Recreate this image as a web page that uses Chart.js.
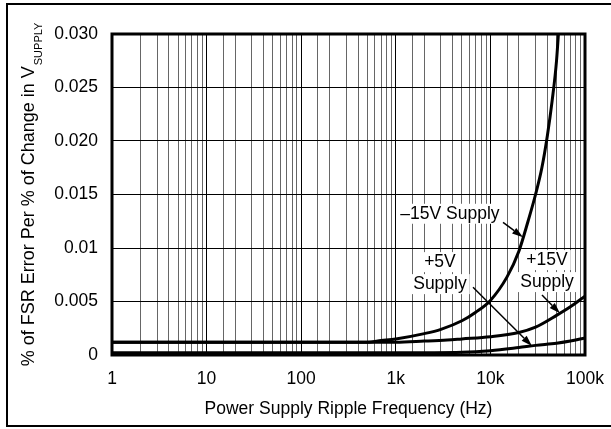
<!DOCTYPE html>
<html>
<head>
<meta charset="utf-8">
<script src="https://cdn.jsdelivr.net/npm/chart.js@4"></script>
<style>
  html, body { margin: 0; padding: 0; background: #fff; }
</style>
</head>
<body>
<canvas id="psrChart" width="611" height="429"></canvas>
<script>
// curve data (frequency in Hz, % FSR error per % supply change)
const freqNeg15 = [1, 100, 500, 700, 1000, 2000, 3000, 5000, 7000, 10000, 15000, 20000, 25000, 30000, 35000, 40000, 45000, 50000, 55000];
const valsNeg15 = [0.0012, 0.0012, 0.0012, 0.00135, 0.0015, 0.002, 0.0024, 0.0032, 0.004, 0.0051, 0.0073, 0.0097, 0.0125, 0.015, 0.0175, 0.0205, 0.0238, 0.0275, 0.033];

const freqPos15 = [1, 1000, 2000, 3500, 5000, 10000, 20000, 30000, 50000, 70000, 100000];
const valsPos15 = [0.0012, 0.0012, 0.0013, 0.0014, 0.0015, 0.0017, 0.0021, 0.0026, 0.0037, 0.0045, 0.0055];

const freqPos5 = [1, 1000, 5000, 10000, 20000, 30000, 50000, 70000, 100000];
const valsPos5 = [0.0002, 0.0002, 0.00025, 0.0004, 0.0007, 0.0009, 0.0011, 0.0013, 0.0016];

const yTickValues = [0, 0.005, 0.01, 0.015, 0.02, 0.025, 0.03];
const yTickLabels = ['0', '0.005', '0.01', '0.015', '0.020', '0.025', '0.030'];
const xTickValues = [1, 10, 100, 1000, 10000, 100000];
const xTickLabels = ['1', '10', '100', '1k', '10k', '100k'];

// callouts, anchored in data coordinates
const noteLines = [['\u201315V Supply'], ['+5V', 'Supply'], ['+15V', 'Supply']];
const noteFreq = [3740, 2930, 39700];
const noteVal = [0.0132, 0.00868, 0.00887];
const arrowFrom = [[13600, 0.0124], [6550, 0.00634], [35100, 0.0056]];
const arrowTo = [[22100, 0.0110], [27500, 0.00084], [54400, 0.0039]];

const FONT = '"Liberation Sans", Arial, Helvetica, sans-serif';
const TXT = 17.5;

const toPoints = (xs, ys) => xs.map((x, i) => ({ x: x, y: ys[i] }));

const lineStyle = {
    borderColor: '#000',
    borderWidth: 3,
    pointRadius: 0,
    fill: false,
    cubicInterpolationMode: 'monotone'
};

const decorPlugin = {
    id: 'decor',
    beforeDatasetsDraw(chart) {
        const ctx = chart.ctx;
        const xs = chart.scales.x, ys = chart.scales.y;
        ctx.save();
        ctx.font = TXT + 'px ' + FONT;
        ctx.textAlign = 'center';
        ctx.textBaseline = 'middle';
        noteLines.forEach((lines, i) => {
            const cx = xs.getPixelForValue(noteFreq[i]);
            const cy = ys.getPixelForValue(noteVal[i]);
            lines.forEach((t, j) => {
                const w = ctx.measureText(t).width;
                const y = cy + j * 22;
                ctx.fillStyle = '#fff';
                ctx.fillRect(cx - w / 2 - 3, y - 10, w + 6, 20);
                ctx.fillStyle = '#000';
                ctx.fillText(t, cx, y);
            });
        });
        ctx.restore();
    },
    afterDatasetsDraw(chart) {
        const ctx = chart.ctx;
        const xs = chart.scales.x, ys = chart.scales.y;
        ctx.save();
        ctx.strokeStyle = '#000';
        ctx.fillStyle = '#000';
        ctx.lineWidth = 1.5;
        arrowFrom.forEach((a, i) => {
            const x1 = xs.getPixelForValue(a[0]), y1 = ys.getPixelForValue(a[1]);
            const x2 = xs.getPixelForValue(arrowTo[i][0]), y2 = ys.getPixelForValue(arrowTo[i][1]);
            const ang = Math.atan2(y2 - y1, x2 - x1);
            const len = 11, half = 3.5;
            const bx = x2 - len * Math.cos(ang), by = y2 - len * Math.sin(ang);
            ctx.beginPath();
            ctx.moveTo(x1, y1);
            ctx.lineTo(bx, by);
            ctx.stroke();
            ctx.beginPath();
            ctx.moveTo(x2, y2);
            ctx.lineTo(bx + half * Math.sin(ang), by - half * Math.cos(ang));
            ctx.lineTo(bx - half * Math.sin(ang), by + half * Math.cos(ang));
            ctx.closePath();
            ctx.fill();
        });

        // heavy plot border
        const a = chart.chartArea;
        ctx.lineWidth = 3;
        ctx.strokeRect(a.left, a.top, a.right - a.left, a.bottom - a.top);
        ctx.restore();
    },
    afterDraw(chart) {
        const ctx = chart.ctx;
        const a = chart.chartArea;
        ctx.save();
        // outer frame
        ctx.lineWidth = 2;
        ctx.strokeStyle = '#000';
        ctx.strokeRect(7, 4, 700, 422);

        // y axis title with subscript
        const main = '% of FSR Error Per % of Change in V';
        const sub = 'SUPPLY';
        ctx.font = '18px ' + FONT;
        const wMain = ctx.measureText(main).width;
        ctx.font = '11px ' + FONT;
        const wSub = ctx.measureText(sub).width;
        const total = wMain + wSub + 1;
        ctx.translate(34, (a.top + a.bottom) / 2);
        ctx.rotate(-Math.PI / 2);
        ctx.fillStyle = '#000';
        ctx.textBaseline = 'alphabetic';
        ctx.textAlign = 'left';
        ctx.font = '18px ' + FONT;
        ctx.fillText(main, -total / 2, 0);
        ctx.font = '11px ' + FONT;
        ctx.fillText(sub, -total / 2 + wMain + 1, 8);
        ctx.restore();
    }
};

const ctx = document.getElementById('psrChart').getContext('2d');
new Chart(ctx, {
    type: 'line',
    data: {
        datasets: [
            Object.assign({ label: '-15V Supply', data: toPoints(freqNeg15, valsNeg15) }, lineStyle),
            Object.assign({ label: '+15V Supply', data: toPoints(freqPos15, valsPos15) }, lineStyle),
            Object.assign({ label: '+5V Supply', data: toPoints(freqPos5, valsPos5) }, lineStyle)
        ]
    },
    options: {
        responsive: false,
        animation: false,
        devicePixelRatio: 1,
        layout: { padding: { top: 34, right: 26, left: 0, bottom: 0 } },
        plugins: {
            legend: { display: false },
            tooltip: { enabled: false }
        },
        scales: {
            x: {
                type: 'logarithmic',
                min: 1,
                max: 100000,
                afterFit: scale => {
                    scale.height = 74;
                    scale.paddingLeft = 0;
                    scale.paddingRight = 0;
                },
                border: { display: false },
                grid: {
                    drawTicks: false,
                    lineWidth: 1,
                    color: c => {
                        const v = c.tick ? c.tick.value : 0;
                        return xTickValues.includes(v) ? '#000' : '#666';
                    }
                },
                ticks: {
                    autoSkip: false,
                    maxRotation: 0,
                    padding: 13.5,
                    color: '#000',
                    font: { family: FONT, size: TXT },
                    callback: v => {
                        const i = xTickValues.indexOf(v);
                        return i >= 0 ? xTickLabels[i] : '';
                    }
                },
                title: {
                    display: true,
                    text: 'Power Supply Ripple Frequency (Hz)',
                    color: '#000',
                    font: { family: FONT, size: TXT },
                    padding: { top: 0, bottom: 9.5 }
                }
            },
            y: {
                min: 0,
                max: 0.03,
                afterFit: scale => {
                    scale.width = 112;
                    scale.paddingTop = 0;
                    scale.paddingBottom = 0;
                },
                border: { display: false },
                grid: { drawTicks: false, color: '#000', lineWidth: 1 },
                ticks: {
                    stepSize: 0.005,
                    padding: 14,
                    color: '#000',
                    font: { family: FONT, size: TXT },
                    callback: v => {
                        const i = yTickValues.findIndex(t => Math.abs(t - v) < 1e-9);
                        return i >= 0 ? yTickLabels[i] : '';
                    }
                }
            }
        }
    },
    plugins: [decorPlugin]
});
</script>
</body>
</html>
